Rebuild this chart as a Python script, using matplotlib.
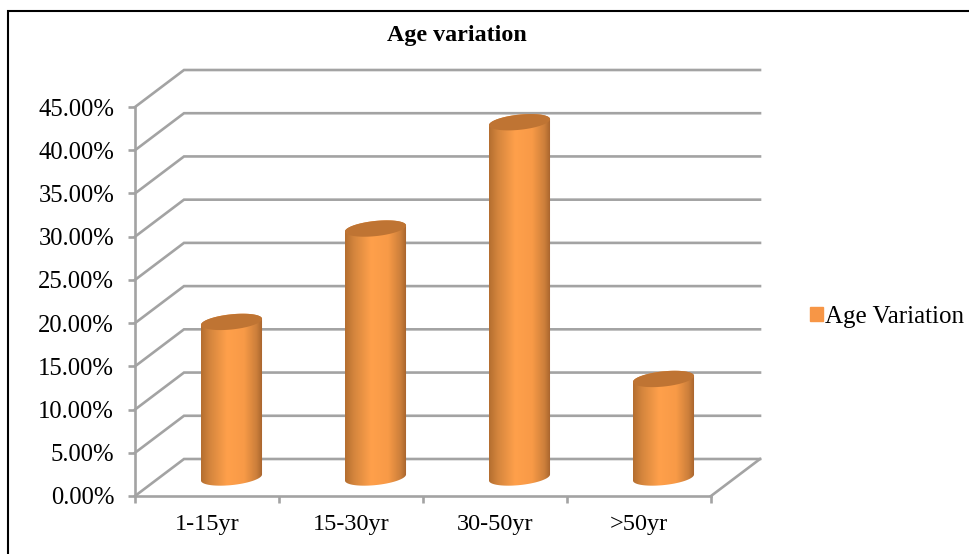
import matplotlib
matplotlib.use("Agg")
import matplotlib.pyplot as plt
import numpy as np
from matplotlib.colors import LinearSegmentedColormap
from matplotlib.patches import Patch, Polygon

categories = ["1-15yr", "15-30yr", "30-50yr", ">50yr"]
age_variation = [18.0, 28.8, 41.1, 11.4]
y_ticks = [0, 5, 10, 15, 20, 25, 30, 35, 40, 45]

W, H = 970, 554
GREY = "#a3a3a3"
# oblique depth of the 3d box, in data units
DEPTH_X = 49 / 144
DEPTH_Y = 37 / 8.644
BAR_A = 0.212
BAR_B = 0.88
BAR_SHEAR = 0.35

plt.rcParams["font.family"] = ["Liberation Serif", "DejaVu Serif"]
fig = plt.figure(figsize=(W / 100, H / 100), dpi=100)
ax = fig.add_axes([135 / W, (H - 496) / H, 576 / W, 389 / H])
ax.patch.set_alpha(0)

# frame around the picture, runs off right and bottom
fig.add_artist(plt.Rectangle((8 / W, -0.1), 1.1, 1.1 - 10.5 / H, transform=fig.transFigure,
                             fill=False, ec="black", lw=1.5))

# back wall and floor
for v in y_ticks:
    ax.plot([0, DEPTH_X, 4 + DEPTH_X], [v, v + DEPTH_Y, v + DEPTH_Y], color=GREY, lw=1.9,
            clip_on=False, zorder=1, solid_joinstyle="miter")
ax.plot([4, 4 + DEPTH_X], [0, DEPTH_Y], color=GREY, lw=1.9, clip_on=False, zorder=1)

cmap = LinearSegmentedColormap.from_list("cyl", [(0, "#b46e30"), (0.14, "#d4853d"), (0.42, "#ffa04b"),
                                                 (0.7, "#f89a47"), (0.9, "#cc7f3b"), (1, "#a5622c")])
shade = np.linspace(0, 1, 128).reshape(1, -1)


def ellipse(cx, cy, t):
    x = BAR_A * np.cos(t)
    return cx + x, cy + BAR_B * np.sin(t) + BAR_SHEAR * np.cos(t)


base = DEPTH_Y / 2
for i, val in enumerate(age_variation):
    cx = i + 0.5 + DEPTH_X / 2
    top = base + val
    t_low = np.linspace(np.pi, 2 * np.pi, 40)
    t_up = np.linspace(0, np.pi, 40)
    xb, yb = ellipse(cx, base, t_low)
    xt, yt = ellipse(cx, top, t_up)
    verts = np.column_stack([np.r_[xb, xt], np.r_[yb, yt]])
    im = ax.imshow(shade, cmap=cmap, extent=[cx - BAR_A, cx + BAR_A, base - 2, top + 2],
                   aspect="auto", zorder=3, clip_on=True)
    body = Polygon(verts, closed=True, transform=ax.transData, fc="none", ec="none")
    ax.add_patch(body)
    im.set_clip_path(body)
    # lid
    t = np.linspace(0, 2 * np.pi, 80)
    xl, yl = ellipse(cx, top, t)
    ax.fill(xl, yl, color="#bf7433", zorder=4, clip_on=False, lw=0)

ax.set_xlim(0, 4)
ax.set_ylim(0, 45)
ax.set_xticks(range(5))
ax.set_xticklabels([])
ax.set_xticks([i + 0.5 for i in range(4)], categories, minor=True)
ax.set_yticks(y_ticks, [f"{v:.2f}%" for v in y_ticks])
ax.tick_params(axis="both", which="major", color=GREY, width=1.9, length=5)
ax.tick_params(axis="x", which="minor", length=0, pad=13, labelsize=17.5)
ax.tick_params(axis="y", labelsize=17.7, pad=10, colors="black", color=GREY)
for side in ["top", "right"]:
    ax.spines[side].set_visible(False)
for side in ["left", "bottom"]:
    ax.spines[side].set_color(GREY)
    ax.spines[side].set_linewidth(1.9)

fig.text(457 / W, 1 - 36 / H, "Age variation", ha="center", va="center", fontsize=17.3, fontweight="bold")
fig.legend(handles=[Patch(color="#f79646", label="Age Variation")], loc="center left",
           bbox_to_anchor=(805 / W, 1 - 317 / H), frameon=False, fontsize=18,
           handlelength=0.5, handleheight=0.5, handletextpad=0.1, borderpad=0.2, borderaxespad=0)

fig.savefig("out.png", dpi=100)
